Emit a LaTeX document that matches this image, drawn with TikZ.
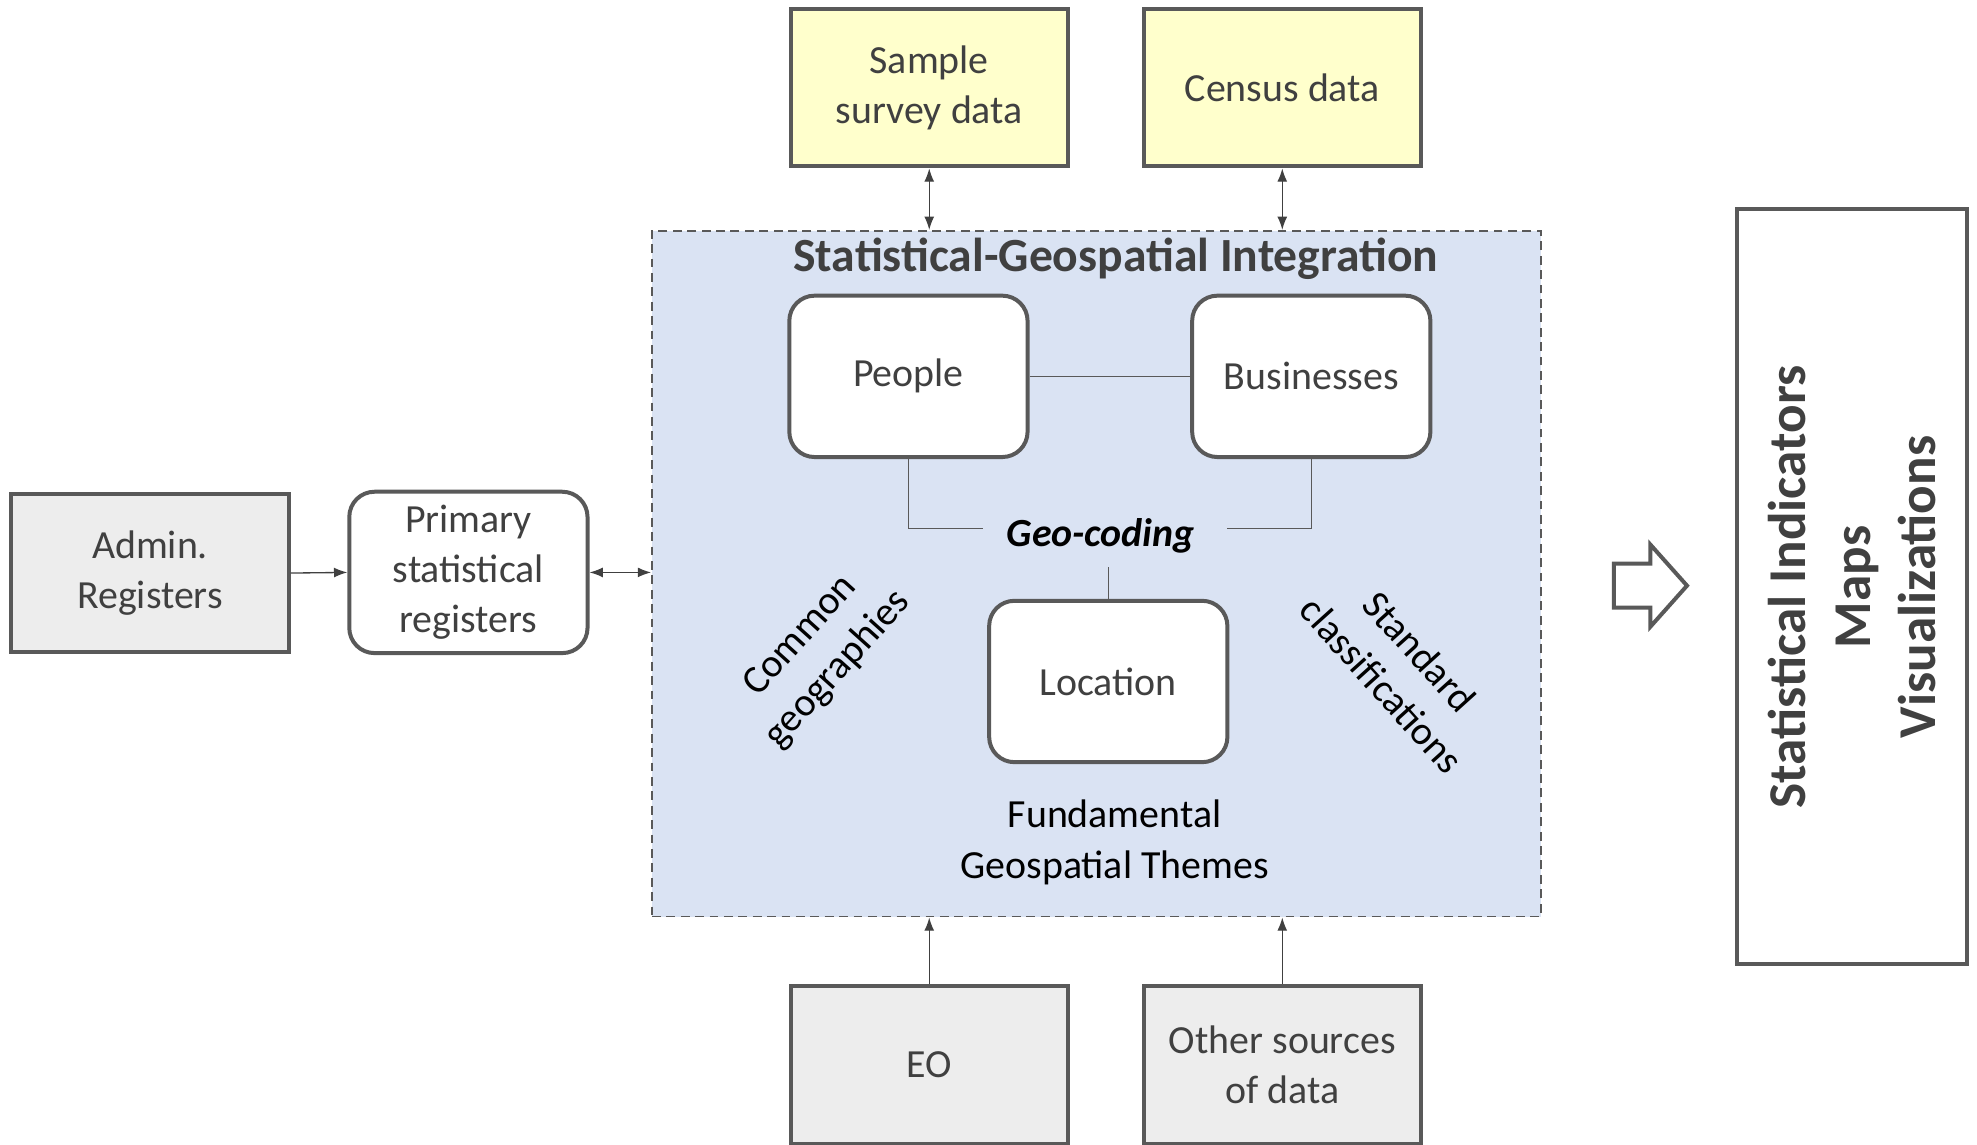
\documentclass[tikz,border=0pt]{standalone}
\usepackage{fontspec}
\setmainfont{Carlito}
\usetikzlibrary{arrows.meta}
\definecolor{boxline}{HTML}{595959}
\definecolor{txt}{HTML}{404040}
\definecolor{yel}{HTML}{FFFFCC}
\definecolor{gry}{HTML}{EDEDED}
\definecolor{blu}{HTML}{DAE3F3}
\begin{document}
\begin{tikzpicture}[x=0.02cm,y=-0.02cm,
  every node/.style={font=\fontsize{18}{22.7}\selectfont, text=txt, align=center, inner sep=0pt},
  srcbox/.style={draw=boxline, line width=1.8pt, minimum width=4.4cm, minimum height=2.5cm},
  yelbox/.style={srcbox, fill=yel},
  grybox/.style={srcbox, fill=gry},
  roundbox/.style={draw=boxline, line width=1.8pt, fill=white, rounded corners=0.4cm, minimum width=3.78cm, minimum height=2.56cm},
  conn/.style={draw=txt, line width=0.6pt},
  arr/.style={conn, -{Latex[length=6pt,width=4.5pt]}},
  biarr/.style={conn, {Latex[length=6pt,width=4.5pt]}-{Latex[length=6pt,width=4.5pt]}},
  inner/.style={draw=boxline, line width=0.6pt},
  blk/.style={text=black}
]
\useasboundingbox (0,0) rectangle (1568,908);

% main integration box
\node[draw=boxline, line width=0.8pt, dash pattern=on 4pt off 2.5pt, fill=blu,
      minimum width=14.1cm, minimum height=10.88cm] (main) at (869.5,455) {};
\node[font=\bfseries\fontsize{21.5}{26}\selectfont] (title) at (885,205) {Statistical-Geospatial Integration};

% top sources
\node[yelbox] (sample) at (737,69.5) {Sample\\survey data};
\node[yelbox] (census) at (1017,69.5) {Census data};

% bottom sources
\node[grybox] (eo) at (737,844.5) {EO};
\node[grybox] (other) at (1017,844.5) {Other sources\\of data};

% left
\node[grybox] (admin) at (119,454.5) {Admin.\\Registers};
\node[roundbox] (primary) at (371.5,454) {Primary\\statistical\\registers};

% inner boxes
\node[roundbox] (people) at (720.5,298.5) {People};
\node[roundbox] (business) at (1040,298.5) {Businesses};
\node[roundbox] (location) at (879,540.5) {Location};
\node[blk, font=\bfseries\itshape\fontsize{18}{22.7}\selectfont] (geo) at (873,425) {Geo-coding};
\coordinate (gl) at (780,419);
\coordinate (gr) at (973,419);
\coordinate (gb) at (879,450);

\node[blk, rotate=48] (common) at (650,518) {Common\\geographies};
\node[blk, rotate=-48] (standard) at (1111,530) {Standard\\classifications};
\node[blk] (fund) at (884,668) {Fundamental\\Geospatial Themes};

% inner connectors
\draw[inner] (people.east) -- (business.west);
\draw[inner] (people.south) |- (gl);
\draw[inner] (business.south) |- (gr);
\draw[inner] (gb) -- (location.north);

% outer connectors
\draw[biarr] (sample.south) -- (sample.south |- main.north);
\draw[biarr] (census.south) -- (census.south |- main.north);
\draw[arr] (eo.north) -- (eo.north |- main.south);
\draw[arr] (other.north) -- (other.north |- main.south);
\draw[arr] (admin.east) -- (primary.west);
\draw[biarr] (primary.east) -- (main.west |- primary.east);

% hollow arrow
\draw[boxline, line width=1.8pt, fill=white]
  (1280,447) -- (1309,447) -- (1309,432) -- (1338,464.5) -- (1309,497) -- (1309,482) -- (1280,482) -- cycle;

% output box
\node[draw=boxline, line width=1.8pt, minimum width=3.64cm, minimum height=11.98cm] (out) at (1469,465.5) {};
\node[rotate=90, font=\bfseries\fontsize{24}{29.3}\selectfont] (outtext) at (1469,465.5) {Statistical Indicators\\Maps\\Visualizations};
\end{tikzpicture}
\end{document}
